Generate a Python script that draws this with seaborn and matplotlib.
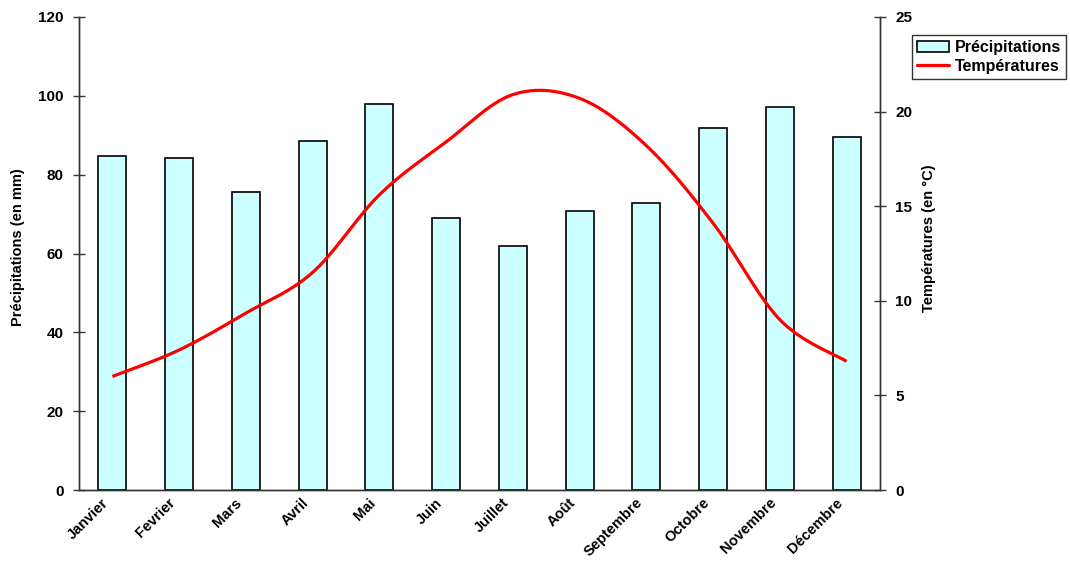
import numpy as np
import pandas as pd
import matplotlib
matplotlib.use("Agg")
import matplotlib.pyplot as plt
import matplotlib.transforms as mtransforms
import seaborn as sns
from matplotlib.patches import Patch
from matplotlib.lines import Line2D

months = ["Janvier", "Fevrier", "Mars", "Avril", "Mai", "Juin", "Juillet",
          "Août", "Septembre", "Octobre", "Novembre", "Décembre"]
precip = [84.7, 84.2, 75.6, 88.5, 97.9, 69.0, 61.9, 70.8, 72.8, 91.8, 97.2, 89.5]
temps = [6.0, 7.4, 9.35, 11.5, 15.6, 18.4, 20.9, 20.7, 18.2, 14.1, 9.0, 6.8]
left_ticks = [0, 20, 40, 60, 80, 100, 120]
right_ticks = [0, 5, 10, 15, 20, 25]

sns.set_style("white")
plt.rcParams['font.family'] = ['Liberation Sans', 'DejaVu Sans']
for k in ['text.color', 'axes.labelcolor', 'xtick.color', 'ytick.color']:
    plt.rcParams[k] = 'black'

fig = plt.figure(figsize=(10.7, 5.62), dpi=100)
ax = fig.add_axes([79/1070, 1-490/562, (880-79)/1070, (490-17)/562])

df = pd.DataFrame({"mois": months, "precip": precip})
sns.barplot(data=df, x="mois", y="precip", ax=ax, color="#CCFFFF",
            edgecolor="black", linewidth=1.2, width=0.42, saturation=1, order=months)
ax.set_xlim(-0.5, 11.5)
ax.set_ylim(0, 120)
ax.set_yticks(left_ticks)
ax.set_yticklabels([str(t) for t in left_ticks], fontsize=11, fontweight='bold')

# x ticks: marks at category boundaries, labels at centres
n = len(months)
ax.set_xticks(np.arange(n + 1) - 0.5)
ax.set_xticklabels([])
ax.set_xticks(np.arange(n), minor=True)
ax.set_xticklabels(months, minor=True, rotation=45, ha='right',
                   rotation_mode='anchor', fontsize=10.5, fontweight='bold')
ax.tick_params(axis='x', which='minor', length=0, pad=7)
ax.tick_params(axis='x', which='major', direction='inout', length=8, width=1, color='#333333')
ax.tick_params(axis='y', direction='inout', length=8, width=1, color='#333333', pad=7)
offset = mtransforms.ScaledTranslation(-11/100, 4/100, fig.dpi_scale_trans)
for lab in ax.get_xticklabels(minor=True):
    lab.set_transform(lab.get_transform() + offset)
ax.set_xlabel("")
ax.set_ylabel("Précipitations (en mm)", fontsize=10.5, fontweight='bold')
ax.yaxis.set_label_coords(-54/801, (490-247)/473)
for s in ["left", "bottom", "right"]:
    ax.spines[s].set_color("#333333")
    ax.spines[s].set_linewidth(1)
ax.spines["top"].set_visible(False)

ax2 = ax.twinx()
# Smoothed curve (Catmull-Rom through the data points, like Excel smoothing)
x = np.arange(n, dtype=float)
y = np.array(temps, dtype=float)
px = np.concatenate([[x[0]], x, [x[-1]]])
py = np.concatenate([[y[0]], y, [y[-1]]])
xs, ys = [], []
for i in range(1, n):
    p0, p1, p2, p3 = (np.array([px[i-1], py[i-1]]), np.array([px[i], py[i]]),
                      np.array([px[i+1], py[i+1]]), np.array([px[i+2], py[i+2]]))
    c1 = p1 + (p2 - p0) / 6
    c2 = p2 - (p3 - p1) / 6
    t = np.linspace(0, 1, 30)[:, None]
    b = (1-t)**3 * p1 + 3*(1-t)**2*t * c1 + 3*(1-t)*t**2 * c2 + t**3 * p2
    xs.extend(b[:, 0]); ys.extend(b[:, 1])
ax2.plot(xs, ys, color="#FF0000", linewidth=2.3, solid_capstyle='butt')
ax2.set_ylim(0, 25)
ax2.set_yticks(right_ticks)
ax2.set_yticklabels([str(t) for t in right_ticks], fontsize=11, fontweight='bold')
ax2.tick_params(axis='y', direction='inout', length=8, width=1, color='#333333', pad=7)
ax2.set_ylabel("Températures (en °C)", fontsize=10.5, fontweight='bold')
ax2.yaxis.set_label_coords(1 + 42/801, (490-238)/473)
for s in ["left", "bottom", "right"]:
    ax2.spines[s].set_color("#333333")
    ax2.spines[s].set_linewidth(1)
ax2.spines["top"].set_visible(False)

handles = [Patch(facecolor="#CCFFFF", edgecolor="black", linewidth=1.2),
           Line2D([0], [0], color="#FF0000", linewidth=2.3)]
leg = fig.legend(handles, ["Précipitations", "Températures"],
                 loc='upper left', bbox_to_anchor=(912/1070, 1-35/562),
                 prop={'size': 11.5, 'weight': 'bold'}, frameon=True, fancybox=False,
                 borderpad=0.3, handlelength=2.0, handletextpad=0.4, labelspacing=0.25,
                 borderaxespad=0)
leg.get_frame().set_edgecolor("black")
leg.get_frame().set_linewidth(1)

fig.savefig("out.png", dpi=100)
